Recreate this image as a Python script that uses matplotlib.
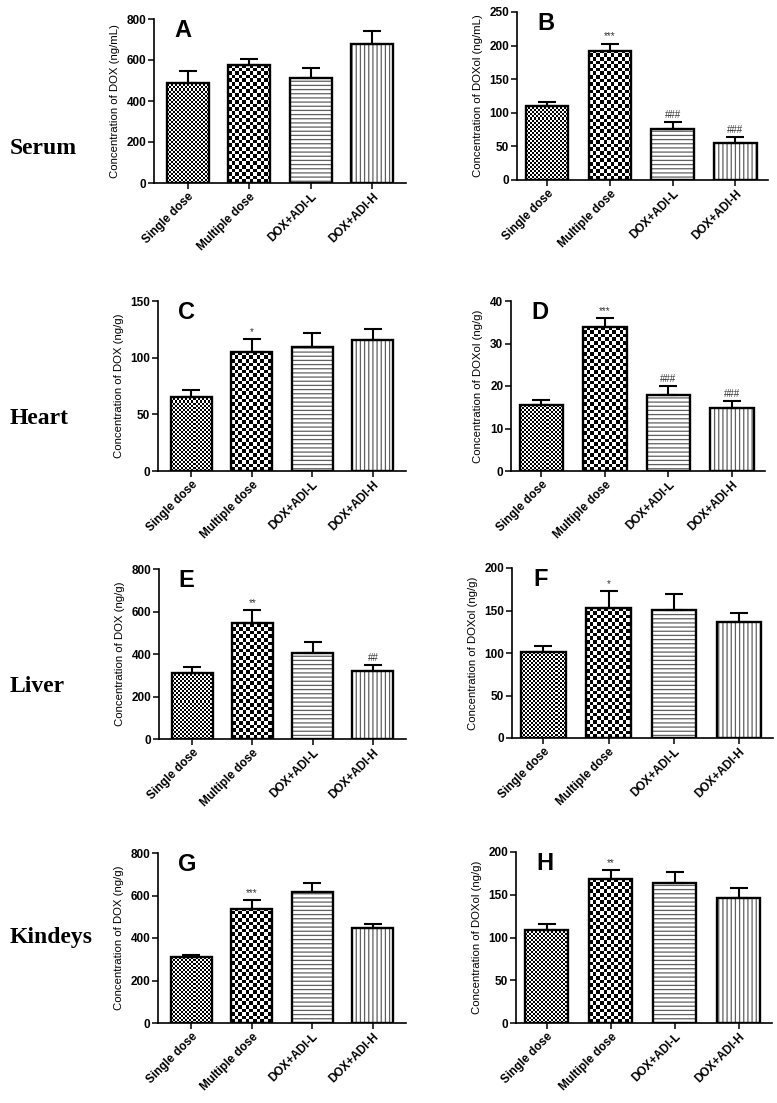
import matplotlib.pyplot as plt
import numpy as np

# groups on every x axis
groups = ['Single dose', 'Multiple dose', 'DOX+ADI-L', 'DOX+ADI-H']

# mean values and upper error (SD) for each panel
serum_dox = [490, 575, 510, 680]
serum_dox_err = [58, 30, 52, 60]
serum_doxol = [110.7, 192.5, 76.5, 54.5]
serum_doxol_err = [5, 10.5, 10, 10]

heart_dox = [65.7, 105.4, 109.8, 115.6]
heart_dox_err = [5.6, 10.8, 12.3, 9.4]
heart_doxol = [15.5, 33.8, 17.8, 14.9]
heart_doxol_err = [1.3, 2.2, 2.2, 1.5]

liver_dox = [311, 545, 407, 319]
liver_dox_err = [30, 60, 48, 27]
liver_doxol = [101, 153, 151, 137]
liver_doxol_err = [7.5, 20, 18, 10]

kidney_dox = [309, 538, 615, 449]
kidney_dox_err = [13, 42, 45, 17]
kidney_doxol = [108.4, 169, 163.6, 146.4]
kidney_doxol_err = [7.5, 10, 13, 11.7]

# significance marks
marks_A = ['', '', '', '']
marks_B = ['', '***', '###', '###']
marks_C = ['', '*', '', '']
marks_D = ['', '***', '###', '###']
marks_E = ['', '**', '', '##']
marks_F = ['', '*', '', '']
marks_G = ['', '***', '', '']
marks_H = ['', '**', '', '']

row_names = ['Serum', 'Heart', 'Liver', 'Kindeys']

W, H = 777, 1103
fig = plt.figure(figsize=(W / 100, H / 100), dpi=100)
fig.patch.set_facecolor('white')

# pixel boxes (left, right, top, bottom) for each panel
panels = [
    ('A', (154, 406, 19, 183), serum_dox, serum_dox_err, marks_A,
     'Concentration of DOX (ng/mL)', 800, 200),
    ('B', (517, 768, 12, 180), serum_doxol, serum_doxol_err, marks_B,
     'Concentration of DOXol (ng/mL)', 250, 50),
    ('C', (158, 406, 301, 471), heart_dox, heart_dox_err, marks_C,
     'Concentration of DOX (ng/g)', 150, 50),
    ('D', (511, 765, 301, 471), heart_doxol, heart_doxol_err, marks_D,
     'Concentration of DOXol (ng/g)', 40, 10),
    ('E', (159, 406, 569, 739), liver_dox, liver_dox_err, marks_E,
     'Concentration of DOX (ng/g)', 800, 200),
    ('F', (512, 773, 568, 738), liver_doxol, liver_doxol_err, marks_F,
     'Concentration of DOXol (ng/g)', 200, 50),
    ('G', (158, 406, 853, 1023), kidney_dox, kidney_dox_err, marks_G,
     'Concentration of DOX (ng/g)', 800, 200),
    ('H', (516, 772, 852, 1023), kidney_doxol, kidney_doxol_err, marks_H,
     'Concentration of DOXol (ng/g)', 200, 50),
]

bar_w = 0.68
x = np.arange(len(groups))


def checker_fill(ax, bar, cell):
    # fill a bar with a black/white checkerboard of `cell` pixels
    x0, y0 = bar.get_x(), bar.get_y()
    x1, y1 = x0 + bar.get_width(), y0 + bar.get_height()
    p0 = ax.transData.transform((x0, y0))
    p1 = ax.transData.transform((x1, y1))
    wpx, hpx = abs(p1[0] - p0[0]), abs(p1[1] - p0[1])
    nx = int(np.ceil(wpx / cell)) + 1
    ny = int(np.ceil(hpx / cell)) + 1
    ii, jj = np.indices((ny, nx))
    img = (ii + jj) % 2
    ux = (x1 - x0) / wpx
    uy = (y1 - y0) / hpx
    im = ax.imshow(img, cmap='gray', vmin=0, vmax=1, interpolation='nearest',
                   extent=(x0, x0 + nx * cell * ux, y0, y0 + ny * cell * uy),
                   origin='lower', aspect='auto', zorder=1)
    im.set_clip_path(bar)


plt.rcParams['hatch.linewidth'] = 0.9

for letter, (l, r, t, b), vals, errs, marks, ylab, ymax, ystep in panels:
    ax = fig.add_axes([l / W, 1 - b / H, (r - l) / W, (b - t) / H])
    if l < 450:
        ax.set_xlim(-0.55, 3.55)
    else:
        ax.set_xlim(-0.48, 3.52)
    ax.set_ylim(0, ymax)

    bars = ax.bar(x, vals, bar_w, color='white', edgecolor='none', zorder=1)
    # textures
    checker_fill(ax, bars[0], 2.0)
    checker_fill(ax, bars[1], 3.6)
    bars[2].set_hatch('----')
    bars[2].set_edgecolor('#606060')
    bars[2].set_linewidth(0)
    bars[3].set_hatch('||||')
    bars[3].set_edgecolor('#606060')
    bars[3].set_linewidth(0)
    # outlines
    ax.bar(x, vals, bar_w, fill=False, edgecolor='black', linewidth=1.7, zorder=3)
    # upper error bars only
    ax.errorbar(x, vals, yerr=[np.zeros(len(vals)), errs], fmt='none',
                ecolor='black', elinewidth=1.5, capsize=6.5, capthick=1.5, zorder=2)
    for xi, v, e, m in zip(x, vals, errs, marks):
        if m:
            ax.annotate(m, (xi, v + e), xytext=(0, 1.5), textcoords='offset points',
                        ha='center', va='bottom', fontsize=7, color='#333333',
                        family='Liberation Sans')
    ax.set_xlim(ax.get_xlim())
    ax.set_ylim(0, ymax)

    ax.set_yticks(np.arange(0, ymax + ystep / 2, ystep))
    ax.set_xticks(x)
    ax.set_xticklabels(groups, rotation=45, ha='right', rotation_mode='anchor',
                       fontsize=8.5, fontweight='bold', family='Liberation Sans')
    for lab in ax.get_yticklabels():
        lab.set_fontsize(8.5)
        lab.set_fontweight('bold')
        lab.set_family('Liberation Sans')
    ax.tick_params(direction='out', length=4, width=1.1, pad=1.5)
    ax.set_ylabel(ylab, fontsize=8.2, family='Liberation Sans', labelpad=5)
    for s in ['top', 'right']:
        ax.spines[s].set_visible(False)
    for s in ['left', 'bottom']:
        ax.spines[s].set_linewidth(1.2)
    ax.text(0.08, 1.0, letter, transform=ax.transAxes, ha='left', va='top',
            fontsize=17, fontweight='bold', family='Liberation Sans')

# row names on the left
for name, yc in zip(row_names, [148, 418, 687, 937]):
    fig.text(10 / W, 1 - yc / H, name, ha='left', va='center', fontsize=17,
             fontweight='bold', family='Liberation Serif')

fig.savefig('out.png', dpi=100)
